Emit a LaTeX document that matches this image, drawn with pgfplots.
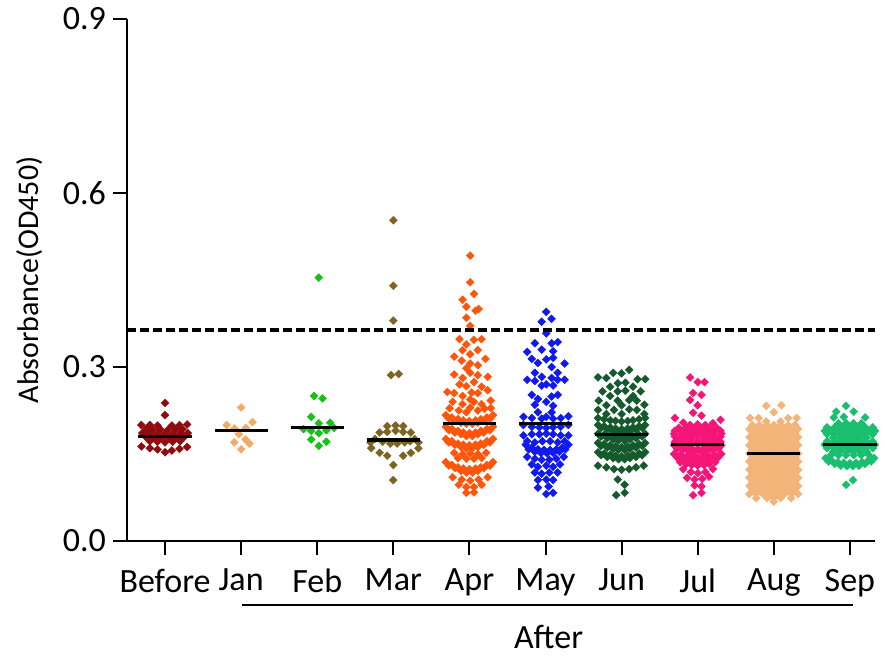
\documentclass[border=0pt]{standalone}
\usepackage{fontspec}
\setmainfont{Carlito}
\usepackage{pgfplots}
\pgfplotsset{compat=1.18}
\definecolor{cBefore}{RGB}{145,10,15}
\definecolor{cJan}{RGB}{242,170,100}
\definecolor{cFeb}{RGB}{20,195,20}
\definecolor{cMar}{RGB}{125,100,35}
\definecolor{cApr}{RGB}{255,85,10}
\definecolor{cMay}{RGB}{15,25,240}
\definecolor{cJun}{RGB}{20,90,45}
\definecolor{cJul}{RGB}{245,20,120}
\definecolor{cAug}{RGB}{242,180,120}
\definecolor{cSep}{RGB}{25,190,110}
\pgfplotsset{dots/.style={only marks, mark=square*, mark size=1.4pt, mark options={rotate=45, line width=0.2pt}},
  med/.style={black, line width=1.6pt, no marks}}
\begin{document}
\begin{tikzpicture}
\useasboundingbox (0,0) rectangle (442.5pt,329.5pt);
\begin{axis}[
  at={(63.5pt,59pt)}, anchor=south west,
  width=374pt, height=261pt, scale only axis,
  xmin=-0.5, xmax=9.33, ymin=0, ymax=0.9,
  axis lines*=left, axis line style={line width=1pt, -},
  ytick={0,0.3,0.6,0.9}, yticklabels={0.0,0.3,0.6,0.9},
  xtick={0,1,2,3,4,5,6,7,8,9}, xticklabels={Before,Jan,Feb,Mar,Apr,May,Jun,Jul,Aug,Sep},
  tick align=outside, major tick length=7pt,
  tick style={line width=1pt, black},
  ticklabel style={font=\fontsize{17}{20}\selectfont},
  xticklabel style={yshift=-3.5pt},
  ylabel={Absorbance(OD450)},
  ylabel style={font=\fontsize{15}{18}\selectfont, at={(axis description cs:-0.13,0.5)}, anchor=center},
  clip=false, clip marker paths=true,
]
% Before
\addplot[dots, color=cBefore] coordinates {
(0,0.238) (0,0.217)
(-0.31,0.200) (-0.2,0.200) (-0.1,0.199) (0.09,0.199) (0.19,0.200) (0.29,0.201)
(-0.25,0.193) (-0.16,0.192) (-0.06,0.192) (0.04,0.192) (0.14,0.193) (0.23,0.193)
(-0.3,0.186) (-0.2,0.186) (-0.1,0.185) (0,0.185) (0.1,0.185) (0.2,0.186) (0.3,0.186)
(-0.25,0.179) (-0.15,0.178) (-0.05,0.178) (0.05,0.178) (0.15,0.178) (0.25,0.179)
(-0.2,0.172) (-0.1,0.171) (0,0.170) (0.1,0.171) (0.2,0.172)
(-0.31,0.163) (-0.2,0.160) (-0.1,0.158) (0,0.153) (0.09,0.156) (0.19,0.159) (0.29,0.162)
};
% Jan
\addplot[dots, color=cJan] coordinates {
(1,0.230) (0.81,0.200) (1.15,0.205) (0.91,0.194) (1.06,0.195) (0.97,0.184) (0.91,0.170) (1.06,0.175) (1.11,0.168) (1,0.158)
};
% Feb
\addplot[dots, color=cFeb] coordinates {
(2.02,0.454) (1.96,0.250) (2.07,0.246) (1.92,0.214) (2.02,0.203) (2.17,0.204) (1.82,0.193) (1.92,0.190) (2.12,0.191) (2.22,0.195) (2.02,0.186) (1.92,0.175) (2.12,0.171) (2.02,0.164)
};
% Mar
\addplot[dots, color=cMar] coordinates {
(3.0,0.553) (3.0,0.440) (3.0,0.380) (2.97,0.286) (3.07,0.288) (2.92,0.198) (3.03,0.199) (3.13,0.198) (2.82,0.187) (2.92,0.188) (3.03,0.190) (3.13,0.188) (3.23,0.187) (2.76,0.176) (2.70,0.170) (2.86,0.171) (2.96,0.168) (3.05,0.168) (3.15,0.170) (3.22,0.172) (3.28,0.176) (3.33,0.170) (2.71,0.160) (3.33,0.160) (2.82,0.152) (2.92,0.147) (3.13,0.147) (3.23,0.152) (3.0,0.131) (3.0,0.105)
};
% Apr
\addplot[dots, color=cApr] coordinates {
(4.01,0.492) (4.01,0.446) (4.06,0.426) (3.91,0.416) (3.96,0.404) (4.08,0.397) (4.12,0.400) (3.96,0.385) (4.01,0.371)
(3.87,0.348) (4.06,0.347) (4.16,0.348) (3.96,0.339) (4.11,0.329) (3.91,0.329) (4.01,0.322) (3.80,0.318) (4.21,0.314) (3.90,0.311) (4.01,0.306) (4.11,0.303) (3.96,0.298)
(3.80,0.287) (3.91,0.281) (4.01,0.290) (4.11,0.286) (4.24,0.283) (3.96,0.267) (4.06,0.274) (4.16,0.266) (3.87,0.270)
(3.71,0.257) (3.80,0.255) (3.91,0.250) (4.03,0.256) (4.11,0.255) (4.24,0.260) (4.01,0.244) (3.78,0.240) (3.91,0.236) (4.06,0.240) (4.16,0.236) (4.28,0.242) (4.01,0.230) (3.74,0.229) (3.86,0.225) (3.96,0.222) (4.11,0.225) (4.20,0.228) (4.28,0.229)
(3.69,0.217) (3.77,0.213) (3.85,0.210) (3.92,0.208) (4,0.207) (4.08,0.208) (4.15,0.210) (4.23,0.213) (4.31,0.217)
(3.73,0.211) (3.81,0.207) (3.89,0.204) (3.96,0.202) (4.04,0.202) (4.11,0.204) (4.19,0.207) (4.27,0.211)
(3.69,0.197) (3.77,0.193) (3.85,0.190) (3.92,0.187) (4,0.186) (4.08,0.187) (4.15,0.190) (4.23,0.193) (4.31,0.197)
(3.73,0.191) (3.81,0.187) (3.89,0.184) (3.96,0.181) (4.04,0.181) (4.11,0.184) (4.19,0.187) (4.27,0.191)
(3.69,0.176) (3.77,0.172) (3.85,0.168) (3.92,0.166) (4,0.165) (4.08,0.166) (4.15,0.168) (4.23,0.172) (4.31,0.176)
(3.73,0.170) (3.81,0.166) (3.89,0.162) (3.96,0.160) (4.04,0.160) (4.11,0.162) (4.19,0.166) (4.27,0.170)
(3.80,0.152) (3.91,0.150) (4.01,0.151) (4.11,0.150) (4.22,0.152) (3.85,0.143) (3.96,0.142) (4.06,0.142) (4.16,0.143)
(3.69,0.136) (3.77,0.131) (3.85,0.127) (3.92,0.125) (4,0.124) (4.08,0.125) (4.15,0.127) (4.23,0.131) (4.31,0.136)
(3.73,0.130) (3.81,0.126) (3.89,0.121) (3.96,0.118) (4.04,0.118) (4.11,0.121) (4.19,0.126) (4.27,0.130)
(3.78,0.110) (3.90,0.106) (4.01,0.104) (4.12,0.106) (4.24,0.110) (3.86,0.097) (3.96,0.093) (4.06,0.093) (4.16,0.097) (3.96,0.083) (4.06,0.084)
};
% May
\addplot[dots, color=cMay] coordinates {
(5.01,0.395) (4.95,0.378) (5.08,0.383) (5.01,0.358)
(4.86,0.341) (5.08,0.341) (5.16,0.343)
(4.76,0.326) (4.95,0.330) (5.10,0.327)
(4.82,0.314) (5.01,0.313) (5.10,0.316) (5.25,0.306)
(4.90,0.307) (5.08,0.300)
(4.86,0.290) (5.16,0.290) (4.95,0.283) (5.08,0.281)
(4.76,0.278) (4.86,0.276) (5.01,0.270) (5.16,0.278) (5.25,0.278)
(4.95,0.268) (5.10,0.268)
(4.82,0.252) (4.90,0.245) (5.08,0.249) (5.16,0.252)
(4.86,0.235) (5.01,0.240) (5.10,0.233)
(4.90,0.222) (5.08,0.222)
(4.71,0.214) (4.82,0.212) (4.95,0.211) (5.01,0.214) (5.10,0.211) (5.20,0.212) (5.30,0.215)
(4.71,0.200) (4.82,0.197) (4.92,0.196) (5.01,0.195) (5.10,0.196) (5.20,0.197) (5.30,0.200)
(4.71,0.182) (4.82,0.184) (4.92,0.184) (5.01,0.185) (5.10,0.184) (5.20,0.182) (5.30,0.182)
(4.76,0.172) (4.86,0.170) (4.96,0.172) (5.06,0.172) (5.16,0.170) (5.25,0.172)
(4.74,0.166) (4.82,0.161) (4.90,0.158) (4.98,0.157) (5.06,0.157) (5.14,0.158) (5.22,0.161) (5.30,0.166)
(4.78,0.158) (4.86,0.154) (4.94,0.152) (5.02,0.151) (5.10,0.152) (5.18,0.154) (5.26,0.158)
(4.76,0.145) (4.86,0.142) (4.95,0.140) (5.05,0.140) (5.14,0.142) (5.24,0.145)
(4.82,0.132) (4.90,0.128) (5.01,0.130) (5.10,0.128) (5.19,0.132)
(4.86,0.118) (4.95,0.116) (5.05,0.118) (5.16,0.118)
(4.90,0.105) (5.01,0.106) (5.10,0.105)
(4.90,0.092) (5.04,0.094)
(5.01,0.081) (5.10,0.083)
};
% Jun
\addplot[dots, color=cJun] coordinates {
(6.10,0.295) (5.89,0.290) (6.0,0.289) (5.69,0.282) (5.80,0.281) (6.21,0.279) (6.31,0.279) (5.95,0.272) (6.05,0.273) (5.85,0.266) (6.15,0.266) (5.75,0.258) (5.95,0.258) (6.05,0.259) (6.25,0.258) (5.85,0.250) (6.15,0.250) (5.70,0.242) (5.95,0.242) (6.10,0.243) (6.20,0.242) (5.80,0.234) (6.0,0.234) (6.30,0.235) (5.69,0.226) (5.90,0.226) (6.10,0.227) (6.20,0.226) (5.80,0.219) (6.0,0.219) (6.30,0.219)
(5.69,0.212) (5.77,0.210) (5.85,0.208) (5.92,0.207) (6,0.206) (6.08,0.207) (6.15,0.208) (6.23,0.210) (6.31,0.212)
(5.69,0.200) (5.77,0.198) (5.85,0.196) (5.92,0.194) (6,0.193) (6.08,0.194) (6.15,0.196) (6.23,0.198) (6.31,0.200)
(5.73,0.195) (5.81,0.192) (5.89,0.190) (5.96,0.188) (6.04,0.188) (6.11,0.190) (6.19,0.192) (6.27,0.195)
(5.69,0.185) (5.77,0.183) (5.85,0.181) (5.92,0.179) (6,0.178) (6.08,0.179) (6.15,0.181) (6.23,0.183) (6.31,0.185)
(5.73,0.180) (5.81,0.177) (5.89,0.175) (5.96,0.173) (6.04,0.173) (6.11,0.175) (6.19,0.177) (6.27,0.180)
(5.69,0.169) (5.77,0.167) (5.85,0.165) (5.92,0.163) (6,0.162) (6.08,0.163) (6.15,0.165) (6.23,0.167) (6.31,0.169)
(5.73,0.164) (5.81,0.161) (5.89,0.159) (5.96,0.157) (6.04,0.157) (6.11,0.159) (6.19,0.161) (6.27,0.164)
(5.69,0.153) (5.77,0.151) (5.85,0.149) (5.92,0.147) (6,0.146) (6.08,0.147) (6.15,0.149) (6.23,0.151) (6.31,0.153)
(5.73,0.148) (5.81,0.145) (5.89,0.143) (5.96,0.141) (6.04,0.141) (6.11,0.143) (6.19,0.145) (6.27,0.148)
(5.69,0.130) (5.80,0.127) (5.90,0.124) (6.0,0.123) (6.10,0.124) (6.19,0.127) (6.29,0.130) (5.95,0.106) (6.04,0.097) (5.93,0.079) (6.04,0.083)
};
% Jul
\addplot[dots, color=cJul] coordinates {
(6.90,0.282) (7.0,0.274) (7.09,0.274) (6.94,0.255) (7.05,0.252) (6.90,0.243) (7.0,0.234) (6.94,0.221) (7.05,0.216) (6.70,0.212) (6.81,0.204) (7.20,0.203) (7.30,0.209)
(6.9,0.200) (7.0,0.201) (7.1,0.200)
(6.75,0.195) (6.85,0.195) (6.95,0.195) (7.05,0.195) (7.15,0.195) (7.25,0.195)
(6.7,0.190) (6.8,0.190) (6.9,0.190) (7.0,0.190) (7.1,0.190) (7.2,0.190) (7.3,0.190)
(6.69,0.185) (6.78,0.185) (6.87,0.185) (6.96,0.185) (7.04,0.185) (7.13,0.185) (7.22,0.185) (7.31,0.185)
(6.7,0.180) (6.8,0.180) (6.9,0.180) (7.0,0.180) (7.1,0.180) (7.2,0.180) (7.3,0.180)
(6.74,0.175) (6.83,0.175) (6.92,0.175) (7.08,0.175) (7.17,0.175) (7.26,0.175)
(6.7,0.171) (6.8,0.171) (6.9,0.171) (7.0,0.171) (7.1,0.171) (7.2,0.171) (7.3,0.171)
(6.69,0.165) (6.77,0.163) (6.85,0.161) (6.92,0.160) (7,0.159) (7.08,0.160) (7.15,0.161) (7.23,0.163) (7.31,0.165)
(6.73,0.159) (6.81,0.157) (6.89,0.155) (6.96,0.154) (7.04,0.154) (7.11,0.155) (7.19,0.157) (7.27,0.159)
(6.69,0.150) (6.77,0.148) (6.85,0.146) (6.92,0.145) (7,0.144) (7.08,0.145) (7.15,0.146) (7.23,0.148) (7.31,0.150)
(6.73,0.144) (6.81,0.142) (6.89,0.140) (6.96,0.139) (7.04,0.139) (7.11,0.140) (7.19,0.142) (7.27,0.144)
(6.77,0.136) (6.85,0.133) (6.92,0.131) (7,0.130) (7.08,0.131) (7.15,0.133) (7.23,0.136)
(6.81,0.124) (6.91,0.119) (7.0,0.117) (7.1,0.119) (7.2,0.124) (6.86,0.109) (6.96,0.106) (7.06,0.107) (7.15,0.111) (6.96,0.096) (7.05,0.094) (6.94,0.079) (7.05,0.083)
};
% Aug
\addplot[dots, color=cAug] coordinates {
(7.90,0.233) (8.10,0.234) (8.0,0.222) (7.69,0.212) (7.80,0.212) (8.19,0.212) (8.30,0.212) (7.90,0.206) (8.09,0.206)
(7.72,0.200) (7.81,0.200) (7.91,0.200) (8.0,0.200) (8.09,0.200) (8.19,0.200) (8.28,0.200)
(7.68,0.193) (7.77,0.193) (7.86,0.193) (7.95,0.193) (8.05,0.193) (8.14,0.193) (8.23,0.193) (8.32,0.193)
(7.72,0.186) (7.81,0.186) (7.91,0.186) (8.0,0.186) (8.09,0.186) (8.19,0.186) (8.28,0.186)
(7.68,0.179) (7.77,0.179) (7.86,0.179) (7.95,0.179) (8.05,0.179) (8.14,0.179) (8.23,0.179) (8.32,0.179)
(7.72,0.172) (7.81,0.172) (7.91,0.172) (8.0,0.172) (8.09,0.172) (8.19,0.172) (8.28,0.172)
(7.68,0.165) (7.77,0.165) (7.86,0.165) (7.95,0.165) (8.05,0.165) (8.14,0.165) (8.23,0.165) (8.32,0.165)
(7.72,0.158) (7.81,0.158) (7.91,0.158) (8.0,0.158) (8.09,0.158) (8.19,0.158) (8.28,0.158)
(7.68,0.151) (7.77,0.151) (7.86,0.151) (7.95,0.151) (8.05,0.151) (8.14,0.151) (8.23,0.151) (8.32,0.151)
(7.72,0.144) (7.81,0.144) (7.91,0.144) (8.0,0.144) (8.09,0.144) (8.19,0.144) (8.28,0.144)
(7.68,0.137) (7.77,0.137) (7.86,0.137) (7.95,0.137) (8.05,0.137) (8.14,0.137) (8.23,0.137) (8.32,0.137)
(7.72,0.130) (7.81,0.130) (7.91,0.130) (8.0,0.130) (8.09,0.130) (8.19,0.130) (8.28,0.130)
(7.68,0.123) (7.77,0.123) (7.86,0.123) (7.95,0.123) (8.05,0.123) (8.14,0.123) (8.23,0.123) (8.32,0.123)
(7.72,0.116) (7.81,0.116) (7.91,0.116) (8.0,0.116) (8.09,0.116) (8.19,0.116) (8.28,0.116)
(7.68,0.109) (7.77,0.109) (7.86,0.109) (7.95,0.109) (8.05,0.109) (8.14,0.109) (8.23,0.109) (8.32,0.109)
(7.72,0.102) (7.81,0.102) (7.91,0.102) (8.0,0.102) (8.09,0.102) (8.19,0.102) (8.28,0.102)
(7.68,0.095) (7.77,0.095) (7.86,0.095) (7.95,0.095) (8.05,0.095) (8.14,0.095) (8.23,0.095) (8.32,0.095)
(7.72,0.088) (7.81,0.088) (7.91,0.088) (8.0,0.088) (8.09,0.088) (8.19,0.088) (8.28,0.088)
(7.68,0.081) (7.77,0.081) (7.86,0.081) (7.95,0.081) (8.05,0.081) (8.14,0.081) (8.23,0.081) (8.32,0.081)
(7.77,0.074) (7.91,0.074) (8.0,0.074) (8.09,0.074) (8.23,0.074) (8.0,0.068)
};
% Sep
\addplot[dots, color=cSep] coordinates {
(8.95,0.233) (8.82,0.223) (9.05,0.223) (8.79,0.213) (8.92,0.214) (9.20,0.213)
(8.85,0.203) (8.95,0.203) (9.05,0.203) (9.15,0.203)
(8.7,0.196) (8.8,0.196) (8.9,0.196) (9.0,0.196) (9.1,0.196) (9.2,0.196) (9.3,0.196)
(8.67,0.190) (8.75,0.190) (8.85,0.190) (8.95,0.190) (9.05,0.190) (9.15,0.190) (9.25,0.190) (9.33,0.190)
(8.7,0.184) (8.8,0.184) (8.9,0.184) (9.0,0.184) (9.1,0.184) (9.2,0.184) (9.3,0.184)
(8.78,0.178) (8.87,0.178) (8.96,0.178) (9.04,0.178) (9.13,0.178) (9.22,0.178)
(8.7,0.172) (8.8,0.172) (8.9,0.172) (9.0,0.172) (9.1,0.172) (9.2,0.172) (9.3,0.172)
(8.67,0.166) (8.75,0.166) (8.85,0.166) (8.95,0.166) (9.05,0.166) (9.15,0.166) (9.25,0.166) (9.33,0.166)
(8.7,0.160) (8.8,0.160) (8.9,0.160) (9.0,0.160) (9.1,0.160) (9.2,0.160) (9.3,0.160)
(8.78,0.154) (8.87,0.154) (8.96,0.154) (9.04,0.154) (9.13,0.154) (9.22,0.154)
(8.75,0.148) (8.85,0.148) (8.95,0.148) (9.05,0.148) (9.15,0.148) (9.25,0.148)
(8.68,0.143) (8.76,0.139) (8.84,0.136) (8.92,0.135) (9.0,0.134) (9.08,0.135) (9.16,0.136) (9.24,0.139) (9.32,0.143)
(8.72,0.137) (8.80,0.133) (8.88,0.130) (8.96,0.129) (9.04,0.129) (9.12,0.130) (9.20,0.133) (9.28,0.137)
(8.95,0.097) (9.04,0.105)
};
% medians
\addplot[med] coordinates {(-0.35,0.180) (0.35,0.180)};
\addplot[med] coordinates {(0.65,0.190) (1.35,0.190)};
\addplot[med] coordinates {(1.65,0.195) (2.35,0.195)};
\addplot[med] coordinates {(2.65,0.174) (3.35,0.174)};
\addplot[med] coordinates {(3.65,0.203) (4.35,0.203)};
\addplot[med] coordinates {(4.65,0.203) (5.35,0.203)};
\addplot[med] coordinates {(5.65,0.183) (6.35,0.183)};
\addplot[med] coordinates {(6.65,0.167) (7.35,0.167)};
\addplot[med] coordinates {(7.65,0.151) (8.35,0.151)};
\addplot[med] coordinates {(8.65,0.167) (9.35,0.167)};
% cutoff
\addplot[black, line width=2pt, dash pattern=on 4.5pt off 2pt, no marks] coordinates {(-0.5,0.363) (9.33,0.363)};
\draw[line width=0.8pt] (axis cs:1.01,-0.110) -- (axis cs:9.04,-0.110);
\node[font=\fontsize{17}{20}\selectfont] at (axis cs:5.04,-0.166) {After};
\end{axis}
\end{tikzpicture}
\end{document}
